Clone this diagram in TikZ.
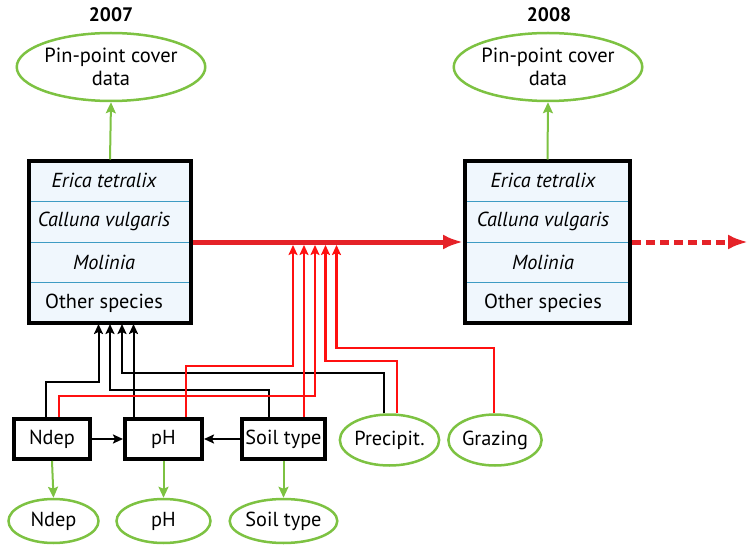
\documentclass[tikz,border=0pt]{standalone}
\usepackage{fontspec}
\setmainfont{PT Sans}
\usetikzlibrary{arrows.meta,shapes.geometric}
\definecolor{lgreen}{HTML}{7DC242}
\definecolor{rowblue}{HTML}{3E9CC4}
\definecolor{rowfill}{HTML}{F0F7FD}
\definecolor{wred}{HTML}{FF1010}
\definecolor{mainred}{HTML}{E52228}
\tikzset{
  txt/.style={font=\fontsize{20.3}{23}\selectfont},
  ell/.style={ellipse, draw=lgreen, line width=2.5pt, fill=white, inner sep=0pt, align=center, txt},
  spbox/.style={draw=black, line width=4pt, fill=rowfill, minimum width=162pt, minimum height=161pt, inner sep=0pt,
    path picture={
      \foreach \f in {0.25,0.5,0.75}
        \draw[rowblue, line width=1pt]
          ([yshift={-\f*161pt}]path picture bounding box.north west) --
          ([yshift={-\f*161pt}]path picture bounding box.north east);
    }},
  rowtxt/.style={txt, inner sep=0pt},
  factbox/.style={draw=black, line width=4pt, fill=white, minimum height=40pt, inner sep=0pt, txt},
  garrow/.style={lgreen, line width=2pt, -{Stealth[length=11pt,width=10pt,inset=2pt]}},
  bwire/.style={black, line width=2pt, -{Stealth[length=10pt,width=9pt,inset=2pt]}},
  rwire/.style={wred, line width=2.2pt, -{Stealth[length=10pt,width=9pt,inset=2pt]}},
  yeartxt/.style={font=\fontsize{19.5}{22}\selectfont\bfseries},
}
\begin{document}
\begin{tikzpicture}[x=1pt, y=-1pt]
\useasboundingbox (0,0) rectangle (749,548);

% year headings
\node[yeartxt] (y07) at (111,15) {2007};
\node[yeartxt] (y08) at (549,15) {2008};

% cover data ellipses
\node[ell, minimum width=187pt, minimum height=68pt, font=\fontsize{20.5}{23}\selectfont] (pp07) at (111,67) {Pin-point cover\\data};
\node[ell, minimum width=187pt, minimum height=68pt, font=\fontsize{20.5}{23}\selectfont] (pp08) at (548,67) {Pin-point cover\\data};

% species boxes
\node[spbox] (sp07) at (110,242) {};
\node[spbox, minimum width=165pt] (sp08) at (547.5,242) {};

\node[rowtxt] (e07) at (104,180.5) {\itshape Erica tetralix};
\node[rowtxt] (c07) at (104,221.5) {\itshape Calluna vulgaris};
\node[rowtxt] (m07) at (104,262.5) {\itshape Molinia};
\node[rowtxt] (o07) at (104,303.5) {Other species};

\node[rowtxt] (e08) at (543,180.5) {\itshape Erica tetralix};
\node[rowtxt] (c08) at (543,221.5) {\itshape Calluna vulgaris};
\node[rowtxt] (m08) at (543,262.5) {\itshape Molinia};
\node[rowtxt] (o08) at (543,303.5) {Other species};

% year-to-year transition
\coordinate (nextyear) at (748,242);
\draw[mainred, line width=5pt, -{Latex[length=20pt,width=15pt]}] (sp07.east) -- (sp08.west);
\draw[mainred, line width=5pt, dash pattern=on 9pt off 5pt, -{Latex[length=20pt,width=15pt]}] (sp08.east) -- (nextyear);

% cover data observations
\draw[garrow] (sp07.north) -- (pp07.south);
\draw[garrow] (sp08.north) -- (pp08.south);

% driver boxes
\node[factbox, minimum width=76pt] (nbox) at (52,439) {Ndep};
\node[factbox, minimum width=77pt] (phbox) at (163.5,439) {pH};
\node[factbox, minimum width=83pt] (soil) at (283.5,439) {Soil type};
\node[ell, minimum width=92pt, minimum height=51pt] (prec) at (389.5,440) {Precipit.};
\node[ell, minimum width=91pt, minimum height=51pt] (graz) at (495,440) {Grazing};

% observed drivers
\node[ell, minimum width=90pt, minimum height=44pt] (nobs) at (53.5,521) {Ndep};
\node[ell, minimum width=94pt, minimum height=44pt] (phobs) at (163.5,521) {pH};
\node[ell, minimum width=92pt, minimum height=44pt] (sobs) at (283.5,521) {Soil type};

\draw[garrow] (nbox.south) -- (nobs.north);
\draw[garrow] (phbox.south) -- (phobs.north);
\draw[garrow] (soil.south) -- (sobs.north);

% links between drivers
\draw[bwire] (nbox.east) -- (phbox.west);
\draw[bwire] (soil.west) -- (phbox.east);

% entry points on the species box and on the transition arrow
\coordinate (bk1) at (98.5,324);
\coordinate (bk2) at (110,324);
\coordinate (bk3) at (122,324);
\coordinate (bk4) at (133.5,324);
\coordinate (rk1) at (293,245);
\coordinate (rk2) at (304,245);
\coordinate (rk3) at (315,245);
\coordinate (rk4) at (325.5,245);
\coordinate (rk5) at (336.5,245);

% effects on species composition
\draw[bwire] ([xshift=-6pt]nbox.north) |- (98.5,382) -- (bk1);
\draw[bwire] (bk4 |- phbox.north) -- (bk4);
\draw[bwire] ([xshift=-14.5pt]soil.north) |- (110,390) -- (bk2);
\draw[bwire] ([xshift=-5.5pt]prec.north) |- (122,372.5) -- (bk3);

% effects on the transition
\draw[rwire] ([xshift=7pt]nbox.north) |- (315,396) -- (rk3);
\draw[rwire] ([xshift=22.5pt]phbox.north) |- (293,366) -- (rk1);
\draw[rwire] (rk2 |- soil.north) -- (rk2);
\draw[rwire] ([xshift=7.5pt]prec.north) |- (325.5,361) -- (rk4);
\draw[rwire] ([xshift=-1pt]graz.north) |- (336.5,348) -- (rk5);
\end{tikzpicture}
\end{document}
